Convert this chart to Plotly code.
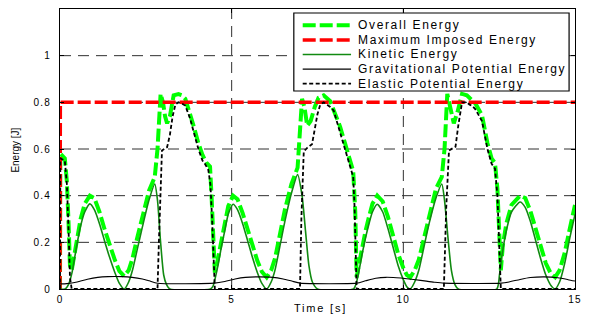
import plotly.graph_objects as go

# ---------------- data ----------------
t_over = [0, 0.01, 0.14, 0.2, 0.25, 0.29, 0.34, 0.48, 0.6, 0.72,
          0.87, 1.0, 1.15, 1.3, 1.44, 1.6, 1.73, 1.87, 2.0, 2.11,
          2.25, 2.4, 2.59, 2.76, 2.84, 2.93, 3.0, 3.06, 3.12, 3.2,
          3.31, 3.45, 3.55, 3.65, 3.79, 3.9, 4.03, 4.15, 4.27, 4.37,
          4.42, 4.47, 4.51, 4.6, 4.7, 4.8, 4.9, 5.04, 5.17, 5.32,
          5.47, 5.6, 5.75, 5.88, 6.02, 6.15, 6.26, 6.4, 6.55, 6.74,
          6.92, 7.05, 7.12, 7.2, 7.3, 7.42, 7.53, 7.68, 7.87, 8.0,
          8.16, 8.3, 8.42, 8.54, 8.6, 8.64, 8.7, 8.8, 8.9, 9.0,
          9.1, 9.24, 9.4, 9.55, 9.7, 9.85, 10.0, 10.1, 10.2, 10.33,
          10.45, 10.6, 10.75, 10.95, 11.12, 11.2, 11.28, 11.38, 11.47, 11.58,
          11.71, 11.85, 12.0, 12.1, 12.29, 12.45, 12.57, 12.67, 12.74, 12.8,
          12.84, 12.9, 13.0, 13.15, 13.4, 13.55, 13.7, 13.85, 14.0, 14.15,
          14.3, 14.42, 14.55, 14.7, 14.85, 15.0]
overall = [0, 0.58, 0.56, 0.46, 0.28, 0.1, 0.08, 0.2, 0.30, 0.365,
           0.40, 0.39, 0.33, 0.255, 0.19, 0.123, 0.077, 0.055, 0.08, 0.13,
           0.22, 0.31, 0.42, 0.48, 0.6, 0.836, 0.8, 0.74, 0.71, 0.74,
           0.83, 0.835, 0.83, 0.815, 0.755, 0.695, 0.625, 0.575, 0.54, 0.525,
           0.38, 0.17, 0.07, 0.13, 0.21, 0.28, 0.355, 0.40, 0.385, 0.325,
           0.25, 0.188, 0.12, 0.074, 0.05, 0.08, 0.13, 0.23, 0.34, 0.45,
           0.52, 0.815, 0.78, 0.70, 0.72, 0.78, 0.82, 0.83, 0.805, 0.755,
           0.695, 0.625, 0.565, 0.505, 0.33, 0.05, 0.1, 0.18, 0.25, 0.31,
           0.365, 0.40, 0.375, 0.31, 0.225, 0.15, 0.09, 0.06, 0.05, 0.08,
           0.125, 0.22, 0.32, 0.43, 0.48, 0.6, 0.836, 0.76, 0.71, 0.76,
           0.836, 0.83, 0.81, 0.795, 0.745, 0.625, 0.56, 0.54, 0.43, 0.2,
           0.08, 0.19, 0.28, 0.36, 0.40, 0.39, 0.335, 0.26, 0.18, 0.11,
           0.065, 0.05, 0.08, 0.155, 0.26, 0.36]

t_max = [0, 0.01, 15]
max_energy = [0, 0.8, 0.8]

t_kin = [0, 0.15, 0.25, 0.35, 0.48, 0.6, 0.72, 0.87, 1.0, 1.15, 1.3, 1.44, 1.6,
         1.73, 1.87, 2.0, 2.11, 2.25, 2.4, 2.59, 2.76, 2.84, 2.93, 3.02, 3.1, 3.2,
         4.38, 4.45, 4.51, 4.6, 4.7, 4.8, 4.9, 5.04, 5.17, 5.32, 5.47, 5.6, 5.75,
         5.88, 6.02, 6.15, 6.26, 6.4, 6.55, 6.74, 6.92, 7.05, 7.15, 7.25, 7.35, 7.5,
         8.55, 8.62, 8.7, 8.8, 8.9, 9.0, 9.1, 9.24, 9.4, 9.55, 9.7, 9.85, 10.0,
         10.1, 10.2, 10.33, 10.45, 10.6, 10.75, 10.95, 11.12, 11.2, 11.3, 11.4, 11.5, 11.6,
         12.72, 12.8, 12.88, 13.0, 13.15, 13.4, 13.55, 13.7, 13.85, 14.0, 14.15,
         14.3, 14.42, 14.55, 14.7, 14.85, 15.0]
kinetic = [0, 0.0, 0.02, 0.07, 0.18, 0.27, 0.33, 0.365, 0.34, 0.28, 0.205, 0.138, 0.07,
           0.024, 0.0, 0.03, 0.08, 0.17, 0.266, 0.38, 0.45, 0.38, 0.2, 0.06, 0.02, 0.0,
           0.0, 0.01, 0.04, 0.1, 0.18, 0.25, 0.32, 0.363, 0.34, 0.28, 0.205, 0.138, 0.07,
           0.024, 0.0, 0.03, 0.08, 0.18, 0.29, 0.41, 0.49, 0.4, 0.25, 0.1, 0.03, 0.0,
           0.0, 0.02, 0.07, 0.15, 0.22, 0.28, 0.33, 0.363, 0.33, 0.26, 0.18, 0.1, 0.04,
           0.01, 0.0, 0.03, 0.08, 0.18, 0.28, 0.39, 0.45, 0.38, 0.22, 0.08, 0.02, 0.0,
           0.0, 0.06, 0.15, 0.25, 0.33, 0.373, 0.35, 0.29, 0.21, 0.13, 0.06,
           0.015, 0.0, 0.03, 0.11, 0.22, 0.32]

t_grav = [0, 0.2, 0.5, 0.8, 1.1, 1.4, 1.8, 2.1, 2.4, 2.6, 2.84,
          4.5, 4.8, 5.1, 5.4, 5.8, 6.2, 6.5, 6.75, 7.0,
          8.64, 8.9, 9.2, 9.5, 9.8, 10.1, 10.5, 10.9, 11.18,
          12.86, 13.1, 13.4, 13.7, 14.1, 14.5, 14.8, 15.0]
grav = [0.022, 0.023, 0.03, 0.042, 0.05, 0.053, 0.053, 0.05, 0.043, 0.035, 0.025,
        0.025, 0.032, 0.043, 0.05, 0.052, 0.05, 0.043, 0.034, 0.025,
        0.025, 0.035, 0.046, 0.05, 0.048, 0.044, 0.037, 0.029, 0.025,
        0.025, 0.031, 0.041, 0.049, 0.052, 0.048, 0.04, 0.034]

t_elas = [0, 0.01, 0.14, 0.2, 0.25, 0.29, 0.34,
          2.84, 2.88, 2.93, 2.97, 3.12, 3.2, 3.28, 3.36, 3.45, 3.55, 3.65, 3.79, 3.9,
          4.03, 4.15, 4.22, 4.32, 4.38, 4.43, 4.47, 4.51,
          6.99, 7.03, 7.1, 7.2, 7.34, 7.42, 7.5, 7.58, 7.68, 7.87, 7.97, 8.16, 8.3,
          8.42, 8.54, 8.58, 8.61, 8.64,
          11.18, 11.25, 11.33, 11.52, 11.6, 11.71, 11.85, 11.93, 12.0, 12.1, 12.29,
          12.45, 12.57, 12.67, 12.74, 12.8, 12.84, 15.0]
elastic = [0, 0.56, 0.55, 0.45, 0.25, 0.05, 0.0,
           0.0, 0.2, 0.45, 0.594, 0.608, 0.66, 0.74, 0.79, 0.80, 0.795, 0.786, 0.73, 0.67,
           0.60, 0.55, 0.537, 0.51, 0.45, 0.3, 0.12, 0.0,
           0.0, 0.3, 0.59, 0.605, 0.62, 0.68, 0.75, 0.79, 0.80, 0.78, 0.765, 0.67, 0.6,
           0.54, 0.48, 0.35, 0.15, 0.0,
           0.0, 0.35, 0.594, 0.61, 0.7, 0.8, 0.80, 0.79, 0.786, 0.77, 0.72,
           0.6, 0.537, 0.516, 0.4, 0.15, 0.0, 0.0]

series_names = ["Overall Energy", "Maximum Imposed Energy", "Kinetic Energy",
                "Gravitational Potential Energy", "Elastic Potential Energy"]
x_ticks = [0, 5, 10, 15]
y_ticks = [0, 0.2, 0.4, 0.6, 0.8, 1]
y_tick_labels = ["0", "0.2", "0.4", "0.6", "0.8", "1"]
x_tick_labels = ["0", "5", "10", "15"]

# ---------------- styling ----------------
W, H = 589, 320
ML, MR, MT, MB = 60, 7, 9, 31
FONT = "Liberation Sans, Arial, sans-serif"

styles = [
    dict(color="#00ff00", width=4, dash="13px,4px"),
    dict(color="#ff0000", width=3.5, dash="13px,4px"),
    dict(color="#118a11", width=1.6, dash="solid"),
    dict(color="#000000", width=1.1, dash="solid"),
    dict(color="#000000", width=1.8, dash="4px,2.5px"),
]
shapes_ = ["linear", "linear", "spline", "spline", "linear"]
xs = [t_over, t_max, t_kin, t_grav, t_elas]
ys = [overall, max_energy, kinetic, grav, elastic]


def spaced(s, sp):
    return f'<span style="letter-spacing:{sp}px">{s}</span>'


def px_x(p):
    return (p - ML) / (W - ML - MR)


def px_y(p):
    return (H - MB - p) / (H - MT - MB)


fig = go.Figure()
for name, x, y, st, sh in zip(series_names, xs, ys, styles, shapes_):
    line = dict(color=st["color"], width=st["width"], dash=st["dash"], shape=sh)
    if sh == "spline":
        line["smoothing"] = 0.6
    fig.add_trace(go.Scatter(x=x, y=y, mode="lines", name=name, line=line,
                             showlegend=False, hoverinfo="skip"))

grid_kw = dict(showgrid=False, zeroline=False)
fig.update_layout(
    width=W, height=H,
    margin=dict(l=ML, r=MR, t=MT, b=MB),
    paper_bgcolor="white", plot_bgcolor="white",
    font=dict(family=FONT, size=10, color="black"),
    showlegend=False,
    xaxis=dict(range=[0, 15], tickvals=x_ticks,
               ticktext=[spaced(s, 1.2) for s in x_tick_labels],
               ticks="inside", ticklen=4, tickcolor="black",
               showline=True, linecolor="black", linewidth=1, mirror="ticks",
               tickfont=dict(size=10, family=FONT), ticklabelstandoff=1,
               **grid_kw),
    yaxis=dict(range=[0, 1.2], tickvals=y_ticks,
               ticktext=[spaced(s, 1.2) for s in y_tick_labels],
               ticks="inside", ticklen=4, tickcolor="black",
               showline=True, linecolor="black", linewidth=1, mirror="ticks",
               tickfont=dict(size=10, family=FONT), ticklabelstandoff=6,
               **grid_kw),
)

shapes = []
# dashed grid lines
for gy in y_ticks[1:]:
    shapes.append(dict(type="line", xref="x", yref="y", x0=0, x1=15, y0=gy, y1=gy,
                       line=dict(color="#303030", width=1, dash="11px,7px"), layer="below"))
for gx in x_ticks[1:-1]:
    shapes.append(dict(type="line", xref="x", yref="y", x0=gx, x1=gx, y0=0, y1=1.2,
                       line=dict(color="#303030", width=1, dash="11px,7px"), layer="below"))

# legend box drawn by hand (reference rows are tighter than plotly's legend allows)
LX0, LX1, LY0, LY1 = 297, 576, 13, 91
shapes.append(dict(type="rect", xref="paper", yref="paper",
                   x0=px_x(LX0), x1=px_x(LX1), y0=px_y(LY1), y1=px_y(LY0),
                   line=dict(color="black", width=1.2), fillcolor="white", layer="above"))
row_y = [25.3, 39.9, 54.5, 69.1, 83.7]
annotations = []
for name, st, ry in zip(series_names, styles, row_y):
    shapes.append(dict(type="line", xref="paper", yref="paper",
                       x0=px_x(306), x1=px_x(355), y0=px_y(ry), y1=px_y(ry),
                       line=dict(color=st["color"], width=st["width"], dash=st["dash"]),
                       layer="above"))
    annotations.append(dict(text=spaced(name, 1.65), xref="paper", yref="paper",
                            x=px_x(360), y=px_y(ry), xanchor="left", yanchor="middle",
                            showarrow=False, font=dict(size=12, family=FONT, color="black")))

annotations.append(dict(text=spaced("Time [s]", 1.8), xref="paper", yref="paper",
                        x=px_x(324), y=px_y(308), xanchor="center", yanchor="middle",
                        showarrow=False, font=dict(size=11, family=FONT)))
annotations.append(dict(text="Energy [J]", xref="paper", yref="paper",
                        x=px_x(14), y=px_y(150), xanchor="center", yanchor="middle",
                        textangle=-90, showarrow=False, font=dict(size=10, family=FONT)))

fig.update_layout(shapes=shapes, annotations=annotations)
fig.write_html("out.html", config={"displayModeBar": False})
